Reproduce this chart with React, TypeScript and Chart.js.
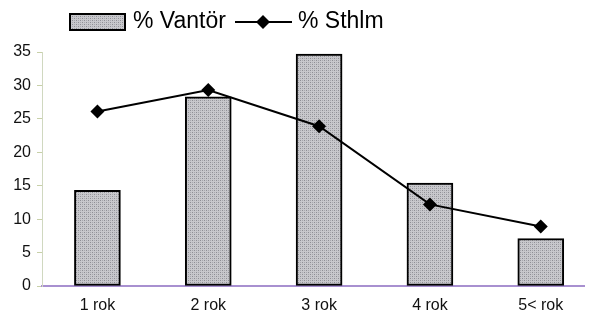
import React, { useEffect, useRef } from "react";
import { Chart, registerables } from "chart.js";

Chart.register(...registerables);

const categories = ["1 rok", "2 rok", "3 rok", "4 rok", "5< rok"];
const vantor = [14.3, 28.3, 34.7, 15.4, 7.1];
const sthlm = [26.1, 29.3, 23.9, 12.2, 8.9];
const yTicks = [0, 5, 10, 15, 20, 25, 30, 35];

const FONT = "'Liberation Sans', Arial, Helvetica, sans-serif";

function makePattern(): CanvasPattern | string {
  const c = document.createElement("canvas");
  c.width = 4;
  c.height = 4;
  const g = c.getContext("2d");
  if (!g) return "#b4b4b8";
  g.fillStyle = "#c8c8cc";
  g.fillRect(0, 0, 4, 4);
  g.fillStyle = "#8e8e94";
  g.fillRect(0, 0, 1, 1);
  g.fillRect(2, 2, 1, 1);
  g.fillStyle = "#a8a8ae";
  g.fillRect(2, 0, 1, 1);
  g.fillRect(0, 2, 1, 1);
  return g.createPattern(c, "repeat") || "#b4b4b8";
}

export default function App() {
  const ref = useRef<HTMLCanvasElement>(null);
  useEffect(() => {
    if (!ref.current) return;
    const pattern = makePattern();
    const legendPlugin = {
      id: "customLegend",
      afterDraw(chart: any) {
        const ctx = chart.ctx;
        ctx.save();
        ctx.fillStyle = pattern;
        ctx.fillRect(70, 14, 55, 16);
        ctx.lineWidth = 2;
        ctx.strokeStyle = "#000";
        ctx.strokeRect(70, 14, 55, 16);
        ctx.fillStyle = "#000";
        ctx.font = `23px ${FONT}`;
        ctx.textBaseline = "middle";
        ctx.textAlign = "left";
        ctx.fillText("% Vantör", 133, 22);
        ctx.beginPath();
        ctx.moveTo(235, 22);
        ctx.lineTo(292, 22);
        ctx.lineWidth = 2;
        ctx.stroke();
        ctx.beginPath();
        ctx.moveTo(263, 15);
        ctx.lineTo(270, 22);
        ctx.lineTo(263, 29);
        ctx.lineTo(256, 22);
        ctx.closePath();
        ctx.fill();
        ctx.fillText("% Sthlm", 298, 22);
        ctx.restore();
      },
    };
    const chart = new Chart(ref.current, {
      type: "bar",
      data: {
        datasets: [
          {
            type: "line",
            label: "% Sthlm",
            data: sthlm.map((v, i) => ({ x: i, y: v })),
            borderColor: "#000",
            backgroundColor: "#000",
            borderWidth: 2,
            pointStyle: "rectRot",
            pointRadius: 7,
            pointBorderWidth: 0,
            tension: 0,
            order: 0,
          },
          {
            type: "bar",
            label: "% Vantör",
            data: vantor.map((v, i) => ({ x: i, y: v })),
            backgroundColor: pattern as any,
            borderColor: "#000",
            borderWidth: 2,
            barThickness: 46,
            borderSkipped: false,
            order: 1,
          },
        ],
      },
      options: {
        animation: false,
        responsive: false,
        layout: { padding: { top: 52, left: 0, right: 0, bottom: 0 } },
        plugins: { legend: { display: false }, tooltip: { enabled: false } },
        scales: {
          x: {
            type: "linear",
            offset: false,
            min: -0.5,
            max: 4.39,
            afterBuildTicks: (s: any) => {
              s.ticks = categories.map((_, i) => ({ value: i }));
            },
            afterFit: (s: any) => {
              s.height = 32;
            },
            ticks: {
              callback: (v: any) => categories[v as number],
              font: { family: FONT, size: 16 },
              color: "#111",
              padding: 2,
              maxRotation: 0,
            },
            grid: { display: false },
            border: { color: "#a890d0", width: 2 },
          },
          y: {
            min: 0,
            max: 35,
            afterBuildTicks: (s: any) => {
              s.ticks = yTicks.map((v) => ({ value: v }));
            },
            afterFit: (s: any) => {
              s.width = 42;
            },
            ticks: {
              font: { family: FONT, size: 16 },
              color: "#111",
              padding: 6,
            },
            grid: {
              drawOnChartArea: false,
              tickLength: 5,
              color: "#c8d0a8",
            },
            border: { color: "#d0d8c0", width: 1 },
          },
        },
      },
      plugins: [legendPlugin],
    } as any);
    return () => chart.destroy();
  }, []);
  return (
    <div style={{ position: "fixed", left: 0, top: 0, width: 591, height: 318, background: "#fff" }}>
      <canvas ref={ref} width={591} height={318} />
    </div>
  );
}
